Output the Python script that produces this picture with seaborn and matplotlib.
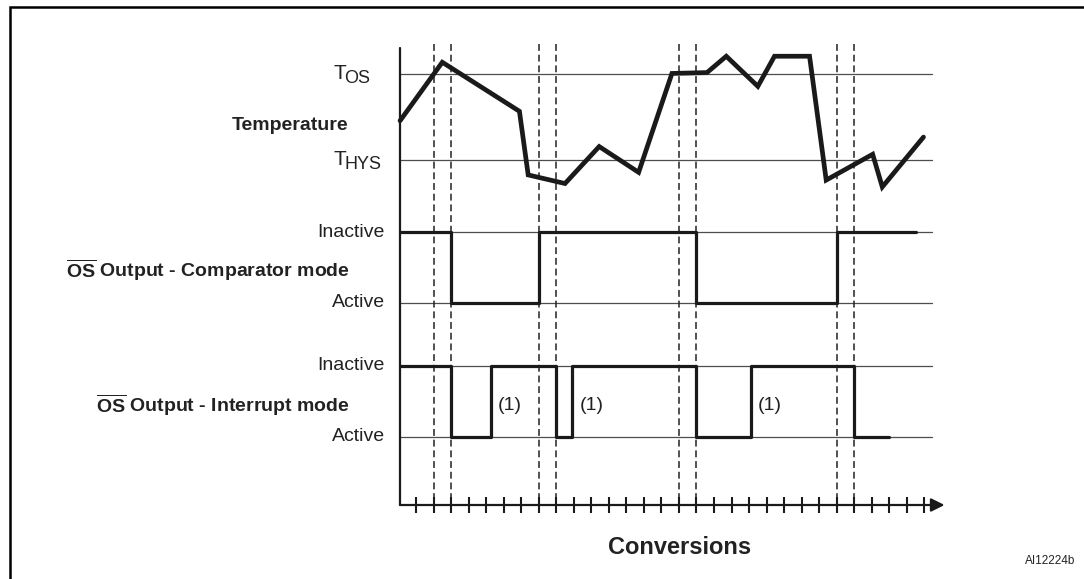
import matplotlib
matplotlib.use("Agg")
import matplotlib.pyplot as plt
import matplotlib.patches as patches
import seaborn as sns
import pandas as pd

# conversion index of the y axis (origin) and of each tick
x_origin = -0.91
n_conv = 30
dashed_at = [1, 2, 7, 8, 15, 16, 24, 25]

# temperature, in units where T_HYS = 0 and T_OS = 1
temp_x = [-0.91, 1.5, 5.9, 6.4, 8.5, 10.45, 12.7, 14.6, 16.6, 17.7, 19.5, 20.45, 22.45, 23.4, 26.05, 26.6, 28.95]
temp_val = [0.46, 1.14, 0.57, -0.17, -0.27, 0.16, -0.14, 1.01, 1.02, 1.21, 0.86, 1.21, 1.21, -0.23, 0.07, -0.31, 0.27]

# OS output, 1 = inactive, 0 = active
comp_x = [-0.91, 2, 7, 16, 24, 28.5]
comp_state = [1, 0, 1, 0, 1, 1]
intr_x = [-0.91, 2, 4.3, 8, 8.9, 16, 19.1, 25, 27]
intr_state = [1, 0, 1, 0, 1, 0, 1, 0, 0]
note_x = [4.64, 9.36, 19.47]

sns.set_style("white")
plt.rcParams['font.family'] = ['Liberation Sans', 'DejaVu Sans']
plt.rcParams['mathtext.fontset'] = 'custom'
plt.rcParams['mathtext.rm'] = 'Liberation Sans'
plt.rcParams['mathtext.bf'] = 'Liberation Sans:bold'

W, H = 1084, 579
fig = plt.figure(figsize=(W / 100, H / 100), dpi=100)
ax = fig.add_axes([0, 0, 1, 1])
# x in conversions, y in pixels from the top
ax.set_xlim(-416 / 17.53, (W - 416) / 17.53)
ax.set_ylim(H, 0)
ax.axis('off')

# lane positions (pixels)
y_tos, y_thys = 74.3, 160.3
y_c_hi, y_c_lo = 232.3, 302.7
y_i_hi, y_i_lo = 366.0, 436.7
y_axis = 505
x_end = 29.45

thin = dict(color='#4d4d4d', lw=0.9)
for y in [y_tos, y_thys, y_c_hi, y_c_lo, y_i_hi, y_i_lo]:
    ax.plot([x_origin, x_end], [y, y], **thin)

# dashed markers
ax.vlines(dashed_at, 44, y_axis, colors='#222222', lw=1.1, linestyles=(0, (4.5, 2.5)))

# axes
ax.plot([x_origin, x_origin], [48, y_axis], color='#1a1a1a', lw=1.6)
ax.annotate('', xy=(30.15, y_axis), xytext=(x_origin, y_axis),
            arrowprops=dict(arrowstyle='-|>', lw=1.6, color='#1a1a1a', mutation_scale=20, shrinkA=0, shrinkB=0))
ax.vlines(list(range(n_conv)), 497, 513, colors='#1a1a1a', lw=1.5)

# temperature
temp = pd.DataFrame({'x': temp_x, 'y': [y_thys - (y_thys - y_tos) * t for t in temp_val]})
sns.lineplot(data=temp, x='x', y='y', sort=False, estimator=None, color='#1a1a1a', lw=3.4,
             solid_joinstyle='miter', ax=ax)

comp = pd.DataFrame({'x': comp_x, 'y': [y_c_lo + (y_c_hi - y_c_lo) * s for s in comp_state]})
sns.lineplot(data=comp, x='x', y='y', sort=False, estimator=None, color='#1a1a1a', lw=2.3,
             drawstyle='steps-post', ax=ax)

intr = pd.DataFrame({'x': intr_x, 'y': [y_i_lo + (y_i_hi - y_i_lo) * s for s in intr_state]})
sns.lineplot(data=intr, x='x', y='y', sort=False, estimator=None, color='#1a1a1a', lw=2.3,
             drawstyle='steps-post', ax=ax)

for nx in note_x:
    ax.text(nx, 405, '(1)', fontsize=14, color='#222222', ha='left', va='center')

# labels
def fx(x):
    return x / W

def fy(y):
    return 1 - y / H

fs = 14
c = '#222222'
fig.text(fx(333), fy(y_tos - 1), 'T', fontsize=15, color=c, va='center', ha='left')
fig.text(fx(344), fy(y_tos + 4), 'OS', fontsize=13, color=c, va='center', ha='left')
fig.text(fx(333), fy(y_thys - 1), 'T', fontsize=15, color=c, va='center', ha='left')
fig.text(fx(344), fy(y_thys + 4), 'HYS', fontsize=13, color=c, va='center', ha='left')
fig.text(fx(290), fy(125), 'Temperature', fontsize=fs, fontweight='bold', color=c, va='center', ha='center')
fig.text(fx(385), fy(y_c_hi), 'Inactive', fontsize=fs, color=c, va='center', ha='right')
fig.text(fx(385), fy(y_c_lo), 'Active', fontsize=fs, color=c, va='center', ha='right')
fig.text(fx(385), fy(y_i_hi), 'Inactive', fontsize=fs, color=c, va='center', ha='right')
fig.text(fx(385), fy(y_i_lo), 'Active', fontsize=fs, color=c, va='center', ha='right')
fig.text(fx(350), fy(270), r'$\mathbf{\overline{OS}}$ Output - Comparator mode', fontsize=fs,
         fontweight='bold', color=c, va='center', ha='right')
fig.text(fx(350), fy(405), r'$\mathbf{\overline{OS}}$ Output - Interrupt mode', fontsize=fs,
         fontweight='bold', color=c, va='center', ha='right')
fig.text(fx(680), fy(548), 'Conversions', fontsize=17, fontweight='bold', color=c, va='center', ha='center')
fig.text(fx(1075), fy(561), 'AI12224b', fontsize=8.5, color=c, va='center', ha='right')

# outer frame
fig.patches.append(patches.Rectangle((fx(10), fy(H + 20)), 2, (H + 20 - 7) / H, fill=False,
                                     lw=1.8, edgecolor='black', transform=fig.transFigure, figure=fig))

fig.savefig('out.png', dpi=100)
